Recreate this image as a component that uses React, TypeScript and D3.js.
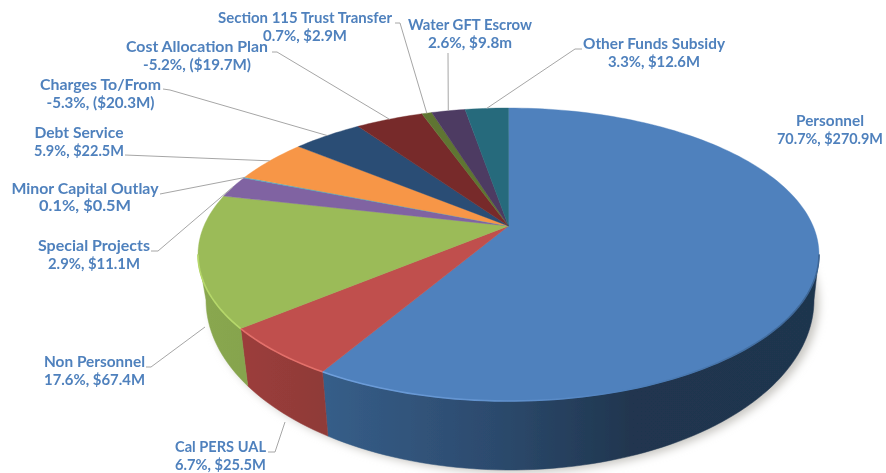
import React from "react";
import * as d3 from "d3";

const categories = ["Personnel","Cal PERS UAL","Non Personnel","Special Projects","Minor Capital Outlay","Debt Service","Charges To/From","Cost Allocation Plan","Section 115 Trust Transfer","Water GFT Escrow","Other Funds Subsidy"];
const amounts = [270.9,25.5,67.4,11.1,0.5,22.5,20.3,19.7,2.9,9.8,12.6];
const valueLabels = ["70.7%, $270.9M","6.7%, $25.5M","17.6%, $67.4M","2.9%, $11.1M","0.1%, $0.5M","5.9%, $22.5M","-5.3%, ($20.3M)","-5.2%, ($19.7M)","0.7%, $2.9M","2.6%, $9.8m","3.3%, $12.6M"];
const colors = ["#4f81bd","#c0504d","#9bbb59","#8064a2","#4bacc6","#f79646","#2c4d75","#772c2a","#5f7530","#4d3b62","#276a7c"];

// label layout: centre x, first baseline, second baseline, and the two line widths
const labelX = [830,220.5,94.5,94,85,79,100.5,197,305,470,654];
const labelY1 = [126,452,367,251,194,138,90,52,23,30,49];
const labelY2 = [144,470,385,269,211,156,108,70,41,48,67];
const nameWidth = [68,91,101,112,147,89,121,142,174,124,142];
const valueWidth = [106,91,101,92,92,90,108,108,84,84,92];
// leader lines: elbows next to the label; personnel has none
const leaderElbows: number[][][] = [
  [],
  [[268,452],[275,452]],
  [[146,367],[151,367]],
  [[151,251],[158,251]],
  [[160,194]],
  [[125,155]],
  [[163,89],[170,90]],
  [[272,52],[277,52]],
  [[395,23],[400,23]],
  [[448,53]],
  [[582,49],[575,49]],
];
const leaderEnds: Record<number, number[]> = { 1: [285,422], 2: [205,327] };

const cx = 508.5, cy = 254.5, rx = 310.5, ry = 146.5, k = 0.195;
const bcx = 510, bcy = 300, brx = 304, bry = 170;

const TAU = Math.PI * 2;
function disk(t: number) {
  const u = Math.sin(t), v = -Math.cos(t);
  const d = 1 - k * v;
  return { u: (u * Math.sqrt(1 - k * k)) / d, v: (v - k) / d };
}
const topPt = (t: number): [number, number] => { const p = disk(t); return [cx + rx * p.u, cy + ry * p.v]; };
const botPt = (t: number): [number, number] => { const p = disk(t); return [bcx + brx * p.u, bcy + bry * p.v]; };

const frontStart = Math.acos(-k);
const frontEnd = TAU - frontStart;
const apex: [number, number] = [cx, cy - ry * k];

const sample = (a: number, b: number) => {
  const n = Math.max(2, Math.ceil(((b - a) / TAU) * 240));
  return d3.range(n + 1).map((i) => a + ((b - a) * i) / n);
};
const line = d3.line<[number, number]>();

const wallStops: Record<number, { o: number; c: string }[]> = {
  0: [{ o: 0, c: "#365e89" }, { o: 0.35, c: "#2c4a6d" }, { o: 0.62, c: "#20364f" }, { o: 1, c: "#1f344e" }],
  1: [{ o: 0, c: "#9c3d3b" }, { o: 1, c: "#8f3a38" }],
  2: [{ o: 0, c: "#8aa84f" }, { o: 1, c: "#86a44e" }],
};
const edgeColor: Record<number, { o: number; c: string }[]> = {
  0: [{ o: 0, c: "#6f9fdc" }, { o: 0.4, c: "#5f90cc" }, { o: 0.6, c: "#4f81bd" }, { o: 1, c: "#3c6594" }],
  1: [{ o: 0, c: "#e36f6a" }, { o: 1, c: "#e36f6a" }],
  2: [{ o: 0, c: "#b6d86a" }, { o: 1, c: "#b6d86a" }],
};

export default function App() {
  const arcs = d3.pie<number>().sort(null).startAngle(0).endAngle(TAU)(amounts);
  const wallArcs = arcs
    .map((a, i) => ({ i, a0: Math.max(a.startAngle, frontStart), a1: Math.min(a.endAngle, frontEnd) }))
    .filter((w) => w.a1 > w.a0);
  const whole = sample(0, TAU);
  const fill = "#4f81bd";
  return (
    <svg width={886} height={473} style={{ position: "absolute", left: 0, top: 0, background: "#fff" }}
      fontFamily="Lato, 'Open Sans', sans-serif">
      <defs>
        <filter id="sh" x="-10%" y="-10%" width="120%" height="120%"><feGaussianBlur stdDeviation="4" /></filter>
        <filter id="soft" x="-5%" y="-5%" width="110%" height="110%"><feGaussianBlur stdDeviation="0.5" /></filter>
        <filter id="edge" x="-10%" y="-10%" width="120%" height="120%"><feGaussianBlur stdDeviation="0.6" /></filter>
        <filter id="txt" x="-5%" y="-5%" width="110%" height="110%"><feGaussianBlur stdDeviation="0.25" /></filter>
        {wallArcs.map((w) => (
          <React.Fragment key={w.i}>
            <linearGradient id={`w${w.i}`} gradientUnits="userSpaceOnUse" x1={topPt(w.a1)[0]} x2={w.i === 0 ? 819 : topPt(w.a0)[0]} y1={0} y2={0}>
              {wallStops[w.i].map((s) => <stop key={s.o} offset={s.o} stopColor={s.c} />)}
            </linearGradient>
            <linearGradient id={`e${w.i}`} gradientUnits="userSpaceOnUse" x1={topPt(w.a1)[0]} x2={w.i === 0 ? 819 : topPt(w.a0)[0]} y1={0} y2={0}>
              {edgeColor[w.i].map((s) => <stop key={s.o} offset={s.o} stopColor={s.c} />)}
            </linearGradient>
          </React.Fragment>
        ))}
      </defs>

      <path d={line(whole.map((t) => { const p = botPt(t); return [p[0] + 5, p[1] + 3] as [number, number]; })) + "Z"} fill="#c9c7c3" filter="url(#sh)" />

      <g filter="url(#soft)">
        {wallArcs.map((w) => {
          const ts = sample(w.a0, w.a1);
          const pts = [...ts.map(topPt), ...ts.slice().reverse().map(botPt)];
          return <path key={w.i} d={line(pts) + "Z"} fill={`url(#w${w.i})`} stroke={`url(#w${w.i})`} strokeWidth={0.5} />;
        })}
        {arcs.map((a, i) => {
          const pts: [number, number][] = [apex, ...sample(a.startAngle, a.endAngle).map(topPt)];
          return <path key={i} d={line(pts) + "Z"} fill={colors[i]} stroke={colors[i]} strokeWidth={0.4} />;
        })}
        {wallArcs.map((w) => (
          <path key={w.i} d={line(sample(w.a0, w.a1).map(topPt)) ?? ""} fill="none" stroke={`url(#e${w.i})`} strokeWidth={1.6} filter="url(#edge)" />
        ))}
      </g>

      {arcs.map((a, i) => {
        const elbows = leaderElbows[i];
        if (!elbows.length) return null;
        const mid = (a.startAngle + a.endAngle) / 2;
        const end = leaderEnds[i] ?? topPt(mid);
        return <path key={i} d={line([...elbows, end] as [number, number][]) ?? ""} fill="none" stroke="#a6a6a6" strokeWidth={1} />;
      })}

      <g fill={fill} fontSize={15} fontWeight={700} textAnchor="middle" filter="url(#txt)">
        {categories.map((c, i) => (
          <React.Fragment key={c}>
            <text x={labelX[i]} y={labelY1[i]} textLength={nameWidth[i]} lengthAdjust="spacingAndGlyphs">{c}</text>
            <text x={labelX[i]} y={labelY2[i]} textLength={valueWidth[i]} lengthAdjust="spacingAndGlyphs">{valueLabels[i]}</text>
          </React.Fragment>
        ))}
      </g>
    </svg>
  );
}
